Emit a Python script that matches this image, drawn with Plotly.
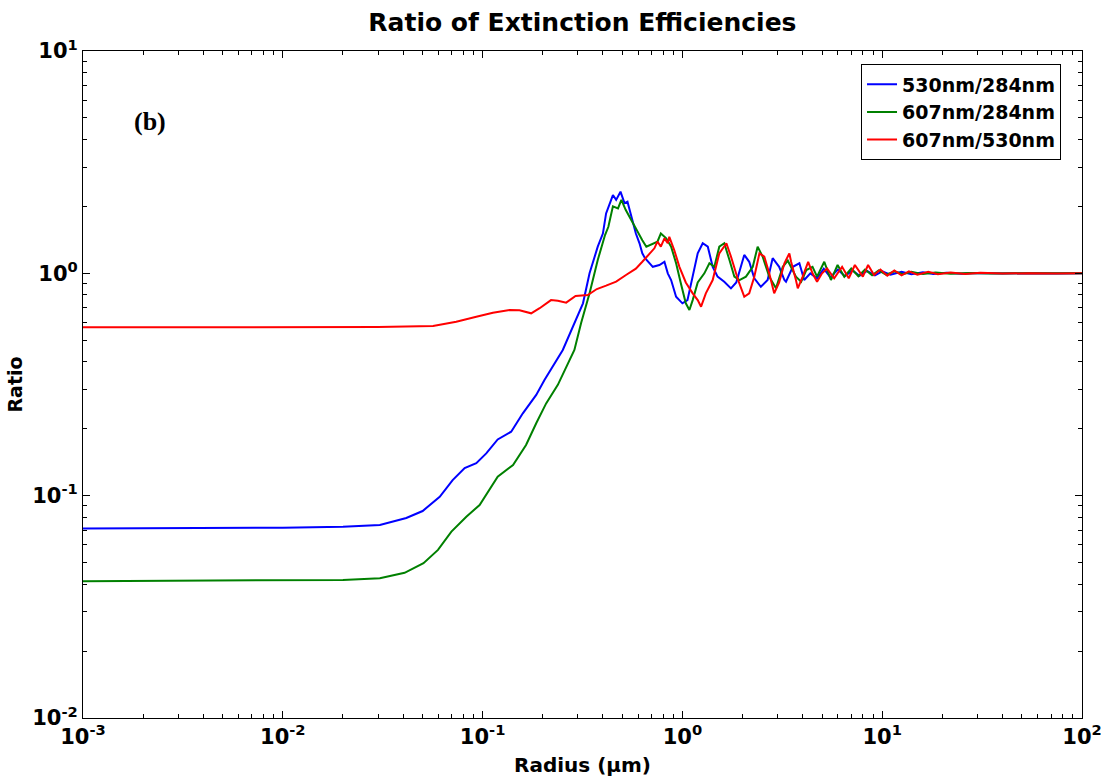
import plotly.graph_objects as go

# Particle radius (um) and extinction-efficiency ratios for each wavelength pair
radius_530_284 = [0.001, 0.003, 0.01, 0.02, 0.0306, 0.0415, 0.0501, 0.061, 0.0708, 0.0813,
                  0.093, 0.1043, 0.119, 0.139, 0.159, 0.1855, 0.204, 0.252, 0.282, 0.318,
                  0.343, 0.377, 0.40, 0.415, 0.449, 0.466, 0.49, 0.513, 0.531, 0.554,
                  0.585, 0.61, 0.63, 0.65, 0.711, 0.767, 0.813, 0.845, 0.878, 0.93,
                  1.0, 1.06, 1.126, 1.193, 1.264, 1.34, 1.418, 1.50, 1.62, 1.75,
                  1.86, 2.04, 2.16, 2.29, 2.47, 2.67, 2.83, 3.05, 3.24, 3.30,
                  3.57, 3.85, 4.07, 4.37, 4.72, 5.1, 5.5, 6.0, 6.5, 7.1,
                  7.7, 8.4, 9.2, 10, 11, 12.5, 14, 16, 18, 21,
                  25, 30, 40, 55, 75, 100]
ratio_530_284 = [0.0712, 0.0714, 0.0718, 0.0724, 0.0738, 0.0794, 0.0853, 0.0988, 0.1175, 0.133,
                 0.140, 0.155, 0.179, 0.194, 0.2346, 0.284, 0.331, 0.452, 0.575, 0.733,
                 1.0, 1.318, 1.51, 1.86, 2.25, 2.14, 2.33, 2.07, 2.10, 1.80,
                 1.51, 1.365, 1.23, 1.17, 1.07, 1.09, 1.127, 1.0, 0.933, 0.785,
                 0.733, 0.758, 0.966, 1.23, 1.365, 1.318, 1.07, 0.966, 0.917, 0.856,
                 0.91, 1.21, 1.127, 0.95, 0.87, 0.933, 1.17, 1.07, 0.933, 0.917,
                 1.07, 1.11, 0.933, 1.0, 0.95, 1.05, 0.96, 1.04, 0.97, 1.03,
                 0.975, 1.025, 0.98, 1.02, 0.985, 1.015, 0.99, 1.01, 0.992, 1.007,
                 0.995, 1.004, 0.997, 1.002, 0.999, 1.0]

radius_607_284 = [0.001, 0.003, 0.01, 0.02, 0.0306, 0.0407, 0.0506, 0.0598, 0.0698, 0.0829,
                  0.0966, 0.108, 0.119, 0.142, 0.165, 0.1855, 0.208, 0.238, 0.288, 0.311,
                  0.343, 0.377, 0.41, 0.426, 0.449, 0.476, 0.495, 0.52, 0.543, 0.575,
                  0.60, 0.63, 0.66, 0.711, 0.75, 0.78, 0.83, 0.878, 0.93, 0.98,
                  1.04, 1.084, 1.126, 1.193, 1.288, 1.365, 1.445, 1.53, 1.62, 1.72,
                  1.82, 1.93, 2.08, 2.25, 2.38, 2.52, 2.72, 2.94, 3.18, 3.37,
                  3.70, 3.93, 4.17, 4.48, 4.72, 5.13, 5.54, 5.98, 6.46, 7.0,
                  7.6, 8.2, 8.9, 9.6, 10.5, 11.5, 12.7, 14, 16, 18.5,
                  22, 27, 35, 50, 70, 100]
ratio_607_284 = [0.0412, 0.0413, 0.0415, 0.0418, 0.0425, 0.045, 0.0497, 0.057, 0.0689, 0.0804,
                 0.0908, 0.106, 0.1217, 0.1374, 0.169, 0.2116, 0.26, 0.315, 0.452, 0.596,
                 0.813, 1.148, 1.487, 1.62, 2.0, 1.96, 2.14, 1.93, 1.80, 1.62,
                 1.51, 1.41, 1.318, 1.365, 1.388, 1.51, 1.437, 1.318, 1.11, 0.91,
                 0.733, 0.684, 0.758, 0.91, 1.0, 1.11, 1.07, 1.318, 1.365, 1.148,
                 0.966, 0.933, 0.966, 1.07, 1.318, 1.19, 0.966, 0.856, 1.07, 1.14,
                 0.966, 0.917, 1.035, 1.07, 0.966, 1.127, 0.933, 1.09, 0.966, 1.05,
                 0.97, 1.04, 0.98, 1.03, 0.985, 1.02, 0.99, 1.015, 0.992, 1.008,
                 0.996, 1.004, 0.998, 1.002, 0.999, 1.0]

radius_607_530 = [0.001, 0.01, 0.03, 0.0565, 0.0738, 0.093, 0.1126, 0.1365, 0.153, 0.175,
                  0.193, 0.220, 0.238, 0.262, 0.292, 0.336, 0.373, 0.415, 0.466, 0.522,
                  0.585, 0.63, 0.684, 0.724, 0.75, 0.78, 0.813, 0.845, 0.86, 0.91,
                  0.966, 1.04, 1.126, 1.193, 1.24, 1.31, 1.418, 1.53, 1.66, 1.75,
                  1.90, 2.04, 2.16, 2.29, 2.43, 2.57, 2.72, 2.88, 3.05, 3.24,
                  3.43, 3.5, 3.70, 3.78, 4.0, 4.26, 4.48, 4.72, 5.0, 5.3,
                  5.75, 6.3, 6.8, 7.3, 8.0, 8.5, 9.1, 9.8, 10.6, 11.5,
                  12.5, 13.6, 15, 17, 19, 22, 26, 31, 40, 55,
                  75, 100]
ratio_607_530 = [0.572, 0.572, 0.573, 0.58, 0.606, 0.638, 0.665, 0.684, 0.682, 0.661,
                 0.697, 0.758, 0.753, 0.738, 0.791, 0.799, 0.85, 0.88, 0.917, 0.983,
                 1.05, 1.127, 1.23, 1.296, 1.39, 1.318, 1.437, 1.365, 1.46, 1.273,
                 1.07, 0.91, 0.813, 0.758, 0.708, 0.813, 0.933, 1.23, 1.365, 1.19,
                 0.933, 0.785, 0.813, 0.966, 1.23, 1.19, 1.0, 0.813, 0.91, 1.11,
                 1.23, 1.127, 0.933, 0.856, 0.966, 1.127, 1.0, 0.917, 1.0, 1.05,
                 0.95, 1.07, 0.95, 1.09, 0.966, 1.09, 0.983, 1.04, 0.975, 1.03,
                 0.98, 1.02, 0.985, 1.015, 0.99, 1.008, 0.994, 1.005, 0.997, 1.002,
                 0.999, 1.0]

series_names = ["530nm/284nm", "607nm/284nm", "607nm/530nm"]
series_colors = ["#0000ff", "#008000", "#ff0000"]

x_ticks = [1e-3, 1e-2, 1e-1, 1e0, 1e1, 1e2]
x_tick_text = ["10<sup>-3</sup>", "10<sup>-2</sup>", "10<sup>-1</sup>",
               "10<sup>0</sup>", "10<sup>1</sup>", "10<sup>2</sup>"]
y_ticks = [1e-2, 1e-1, 1e0, 1e1]
y_tick_text = ["10<sup>-2</sup>", "10<sup>-1</sup>", "10<sup>0</sup>", "10<sup>1</sup>"]


def minor_vals(lo_exp, hi_exp):
    return [m * 10.0 ** e for e in range(lo_exp, hi_exp) for m in range(2, 10)]


fig = go.Figure()
for xs, ys, name, color in zip(
        [radius_530_284, radius_607_284, radius_607_530],
        [ratio_530_284, ratio_607_284, ratio_607_530],
        series_names, series_colors):
    fig.add_trace(go.Scatter(x=xs, y=ys, mode="lines", name=name,
                             line=dict(color=color, width=2)))

bold = dict(family="DejaVu Sans", color="black", weight="bold")

axis_common = dict(
    type="log", showline=True, linecolor="black", linewidth=1, mirror="allticks",
    ticks="inside", ticklen=7, tickwidth=1, tickcolor="black",
    showgrid=False, zeroline=False, tickmode="array", automargin=False,
    ticklabeloverflow="allow", tickfont=dict(size=21, **bold),
)

fig.update_xaxes(
    range=[-3, 2], tickvals=x_ticks, ticktext=x_tick_text,
    minor=dict(tickmode="array", tickvals=minor_vals(-3, 2), ticks="inside",
               ticklen=4, tickcolor="black", showgrid=False),
    title=dict(text="Radius (μm)", font=dict(size=20, **bold), standoff=10),
    **axis_common,
)
fig.update_yaxes(
    range=[-2, 1], tickvals=y_ticks, ticktext=y_tick_text,
    minor=dict(tickmode="array", tickvals=minor_vals(-2, 1), ticks="inside",
               ticklen=4, tickcolor="black", showgrid=False),
    title=dict(text="Ratio", font=dict(size=19, **bold), standoff=4),
    **axis_common,
)

fig.add_annotation(text="(b)", xref="paper", yref="paper", x=0.067, y=0.895,
                   xanchor="center", yanchor="middle", showarrow=False,
                   font=dict(family="Liberation Serif", size=26, color="black",
                             weight="bold"))

fig.update_layout(
    width=1101, height=777,
    margin=dict(l=83, r=19, t=51, b=59),
    paper_bgcolor="white", plot_bgcolor="white",
    title=dict(text="Ratio of Extinction Efficiencies", x=0.529, xanchor="center",
               y=0.971, yanchor="middle", font=dict(size=25, **bold)),
    legend=dict(x=0.979, xanchor="right", y=0.98, yanchor="top",
                bgcolor="white", bordercolor="black", borderwidth=1,
                font=dict(size=19, **bold), tracegroupgap=0),
    showlegend=True,
)

fig.write_html("out.html")
